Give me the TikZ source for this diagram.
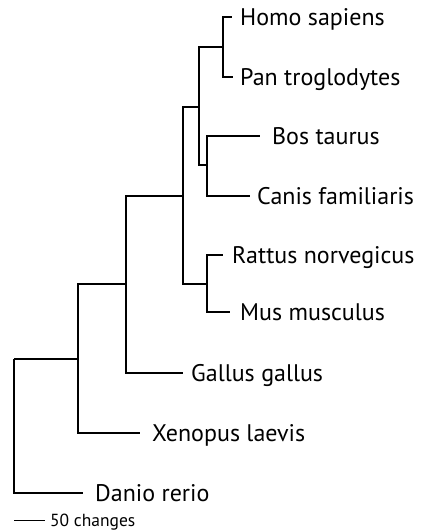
\documentclass[tikz,border=0pt]{standalone}
\usepackage{fontspec}
\setmainfont{PT Sans}
\usetikzlibrary{positioning}

\begin{document}
\begin{tikzpicture}[
    x=1pt, y=-1pt,
    branch/.style={draw, line width=1.3pt},
    taxon/.style={anchor=base west, inner sep=0pt, yshift=-8.4pt,
                  font=\fontsize{24}{26}\selectfont},
    scalelabel/.style={anchor=base west, inner sep=0pt, yshift=-6pt,
                  font=\fontsize{17.5}{19}\selectfont}
]
    \useasboundingbox (0,0) rectangle (424,531);

    % internal nodes of the tree
    \coordinate (root) at (14,359);
    \coordinate (tetra) at (78,359);
    \coordinate (amnio) at (126,284);
    \coordinate (mammal) at (183,196);
    \coordinate (euarch) at (199,107);
    \coordinate (primate) at (223,47);
    \coordinate (laura) at (207,165);
    \coordinate (rodent) at (207,284);

    % branch tips
    \coordinate (homotip) at (232,17);
    \coordinate (pantip) at (233,77);
    \coordinate (bostip) at (260,136);
    \coordinate (canistip) at (250,196);
    \coordinate (rattustip) at (223,255);
    \coordinate (mustip) at (230,312);
    \coordinate (gallustip) at (183,373);
    \coordinate (xenotip) at (140,433);
    \coordinate (daniotip) at (83,493);

    \node[right=8pt of homotip, taxon] (homo) {Homo sapiens};
    \node[right=7pt of pantip, taxon] (pan) {Pan troglodytes};
    \node[right=12pt of bostip, taxon] (bos) {Bos taurus};
    \node[right=7pt of canistip, taxon] (canis) {Canis familiaris};
    \node[right=9pt of rattustip, taxon] (rattus) {Rattus norvegicus};
    \node[right=10pt of mustip, taxon] (mus) {Mus musculus};
    \node[right=8pt of gallustip, taxon] (gallus) {Gallus gallus};
    \node[right=12pt of xenotip, taxon] (xeno) {Xenopus laevis};
    \node[right=12pt of daniotip, taxon] (danio) {Danio rerio};

    \draw[branch] (root) |- (daniotip);
    \draw[branch] (root) |- (tetra);
    \draw[branch] (tetra) |- (xenotip);
    \draw[branch] (tetra) |- (amnio);
    \draw[branch] (amnio) |- (gallustip);
    \draw[branch] (amnio) |- (mammal);
    \draw[branch] (mammal) |- (euarch);
    \draw[branch] (mammal) |- (rodent);
    \draw[branch] (rodent) |- (rattustip);
    \draw[branch] (rodent) |- (mustip);
    \draw[branch] (euarch) |- (primate);
    \draw[branch] (euarch) |- (laura);
    \draw[branch] (primate) |- (homotip);
    \draw[branch] (primate) |- (pantip);
    \draw[branch] (laura) |- (bostip);
    \draw[branch] (laura) |- (canistip);

    % scale bar
    \coordinate (barleft) at (14,520);
    \coordinate (barright) at (45,520);
    \draw[line width=1pt] (barleft) -- (barright);
    \node[right=5pt of barright, scalelabel] (barlabel) {50 changes};
\end{tikzpicture}
\end{document}
